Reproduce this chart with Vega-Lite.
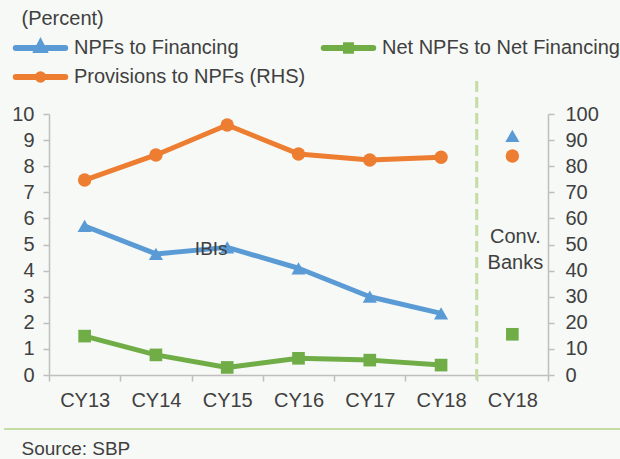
{
  "$schema": "https://vega.github.io/schema/vega-lite/v6.json",
  "width": 499,
  "height": 261,
  "autosize": "none",
  "padding": {"left": 49, "top": 114, "right": 72, "bottom": 84},
  "background": "#f7f9f6",
  "config": {"font": "Liberation Sans", "view": {"stroke": null}},
  "data": {
    "values": [
      {"cat": "CY13", "series": "NPFs to Financing", "side": "L", "grp": "IBIs", "value": 5.71},
      {"cat": "CY14", "series": "NPFs to Financing", "side": "L", "grp": "IBIs", "value": 4.64},
      {"cat": "CY15", "series": "NPFs to Financing", "side": "L", "grp": "IBIs", "value": 4.89},
      {"cat": "CY16", "series": "NPFs to Financing", "side": "L", "grp": "IBIs", "value": 4.09},
      {"cat": "CY17", "series": "NPFs to Financing", "side": "L", "grp": "IBIs", "value": 3.0},
      {"cat": "CY18", "series": "NPFs to Financing", "side": "L", "grp": "IBIs", "value": 2.36},
      {"cat": "CY18 Conv", "series": "NPFs to Financing", "side": "L", "grp": "Conv", "value": 9.16},
      {"cat": "CY13", "series": "Net NPFs to Net Financing", "side": "L", "grp": "IBIs", "value": 1.49},
      {"cat": "CY14", "series": "Net NPFs to Net Financing", "side": "L", "grp": "IBIs", "value": 0.77},
      {"cat": "CY15", "series": "Net NPFs to Net Financing", "side": "L", "grp": "IBIs", "value": 0.29},
      {"cat": "CY16", "series": "Net NPFs to Net Financing", "side": "L", "grp": "IBIs", "value": 0.64},
      {"cat": "CY17", "series": "Net NPFs to Net Financing", "side": "L", "grp": "IBIs", "value": 0.57},
      {"cat": "CY18", "series": "Net NPFs to Net Financing", "side": "L", "grp": "IBIs", "value": 0.38},
      {"cat": "CY18 Conv", "series": "Net NPFs to Net Financing", "side": "L", "grp": "Conv", "value": 1.56},
      {"cat": "CY13", "series": "Provisions to NPFs (RHS)", "side": "R", "grp": "IBIs", "value": 74.7},
      {"cat": "CY14", "series": "Provisions to NPFs (RHS)", "side": "R", "grp": "IBIs", "value": 84.3},
      {"cat": "CY15", "series": "Provisions to NPFs (RHS)", "side": "R", "grp": "IBIs", "value": 95.8},
      {"cat": "CY16", "series": "Provisions to NPFs (RHS)", "side": "R", "grp": "IBIs", "value": 84.7},
      {"cat": "CY17", "series": "Provisions to NPFs (RHS)", "side": "R", "grp": "IBIs", "value": 82.4},
      {"cat": "CY18", "series": "Provisions to NPFs (RHS)", "side": "R", "grp": "IBIs", "value": 83.4},
      {"cat": "CY18 Conv", "series": "Provisions to NPFs (RHS)", "side": "R", "grp": "Conv", "value": 83.9}
    ]
  },
  "encoding": {
    "x": {
      "field": "cat",
      "type": "ordinal",
      "scale": {"type": "band", "paddingInner": 0, "paddingOuter": 0, "domain": ["CY13", "CY14", "CY15", "CY16", "CY17", "CY18", "CY18 Conv"]},
      "axis": {
        "title": "Source: SBP",
        "titleX": -28,
        "titleY": 73,
        "titleAlign": "left",
        "titleBaseline": "middle",
        "titleFontSize": 19,
        "titleFontWeight": "normal",
        "titleColor": "#404040",
        "labelExpr": "datum.value == 'CY18 Conv' ? 'CY18' : datum.value",
        "labelAngle": 0,
        "labelOverlap": false,
        "tickBand": "extent",
        "tickSize": 6,
        "domainColor": "#bfbfbf",
        "tickColor": "#bfbfbf",
        "domainWidth": 1.5,
        "tickWidth": 1.5,
        "labelFontSize": 20,
        "labelColor": "#404040",
        "labelPadding": 9,
        "grid": false
      }
    }
  },
  "layer": [
    {
      "encoding": {
        "y": {
          "field": "value",
          "type": "quantitative",
          "scale": {"domain": [0, 10], "nice": false},
          "axis": {
            "orient": "left",
            "values": [0, 1, 2, 3, 4, 5, 6, 7, 8, 9, 10],
            "labelOverlap": false,
            "title": "(Percent)",
            "titleAngle": 0,
            "titleX": -28,
            "titleY": -96,
            "titleAlign": "left",
            "titleBaseline": "middle",
            "titleFontSize": 20,
            "titleFontWeight": "normal",
            "titleColor": "#404040",
            "grid": false,
            "domainColor": "#bfbfbf",
            "tickColor": "#bfbfbf",
            "domainWidth": 1.5,
            "tickWidth": 1.5,
            "tickSize": 6,
            "labelFontSize": 20,
            "labelColor": "#404040",
            "labelPadding": 9
          }
        }
      },
      "layer": [
        {
          "transform": [{"filter": "datum.side == 'L' && datum.grp == 'IBIs'"}],
          "mark": {"type": "line", "strokeWidth": 5, "strokeCap": "round", "strokeJoin": "round"},
          "encoding": {
            "color": {
              "field": "series",
              "type": "nominal",
              "scale": {
                "domain": ["NPFs to Financing", "Provisions to NPFs (RHS)", "Net NPFs to Net Financing"],
                "range": ["#5b9bd5", "#ed7d31", "#70ad47"]
              },
              "legend": {
                "orient": "none",
                "legendX": -39,
                "legendY": -77,
                "columns": 2,
                "title": null,
                "padding": 0,
                "labelFontSize": 20,
                "labelColor": "#404040",
                "labelLimit": 400,
                "labelOffset": 3,
                "symbolSize": 3025,
                "clipHeight": 22,
                "rowPadding": 7,
                "columnPadding": 12,
                "encode": {
                  "symbols": {
                    "update": {
                      "shape": {"signal": "datum.value === 'NPFs to Financing' ? 'M-0.9,0H0.9M0,-0.16L0.12,0.07L-0.12,0.07Z' : datum.value === 'Net NPFs to Net Financing' ? 'M-0.9,0H0.9M-0.09,-0.1H0.09V0.1H-0.09Z' : 'M-0.9,0H0.9M-0.1,0A0.1,0.1 0 1,0 0.1,0A0.1,0.1 0 1,0 -0.1,0Z'"},
                      "fill": {"signal": "datum.value === 'NPFs to Financing' ? '#5b9bd5' : datum.value === 'Net NPFs to Net Financing' ? '#70ad47' : '#ed7d31'"},
                      "stroke": {"signal": "datum.value === 'NPFs to Financing' ? '#5b9bd5' : datum.value === 'Net NPFs to Net Financing' ? '#70ad47' : '#ed7d31'"},
                      "strokeWidth": {"value": 6},
                      "strokeCap": {"value": "round"},
                      "opacity": {"value": 1}
                    }
                  }
                }
              }
            }
          }
        },
        {
          "transform": [{"filter": "datum.series == 'NPFs to Financing'"}],
          "mark": {"type": "point", "shape": "triangle-up", "filled": true, "size": 200, "color": "#5b9bd5", "opacity": 1}
        },
        {
          "transform": [{"filter": "datum.series == 'Net NPFs to Net Financing'"}],
          "mark": {"type": "point", "shape": "square", "filled": true, "size": 160, "color": "#70ad47", "opacity": 1}
        },
        {
          "data": {"values": [{"cat": "CY18 Conv", "value": -0.19, "value2": 11.3}]},
          "mark": {"type": "rule", "color": "#c5dca3", "strokeWidth": 3, "strokeDash": [11, 5]},
          "encoding": {
            "x": {"field": "cat", "type": "ordinal", "bandPosition": 0},
            "y2": {"field": "value2"}
          }
        },
        {
          "data": {"values": [{"value": -2.07}]},
          "mark": {"type": "rule", "color": "#c5dca3", "strokeWidth": 2},
          "encoding": {
            "x": {"datum": "CY13", "type": "ordinal", "bandPosition": -0.63},
            "x2": {"datum": "CY18 Conv", "bandPosition": 2.01}
          }
        },
        {
          "data": {"values": [{"cat": "CY15", "value": 4.83, "label": "IBIs"}]},
          "mark": {"type": "text", "fontSize": 19, "color": "#404040", "dx": -16, "baseline": "middle"},
          "encoding": {"text": {"field": "label"}}
        },
        {
          "data": {"values": [{"cat": "CY18 Conv", "value": 5.29, "label": "Conv.\nBanks"}]},
          "mark": {"type": "text", "fontSize": 20, "color": "#404040", "dx": 3, "baseline": "middle", "lineBreak": "\n", "lineHeight": 26},
          "encoding": {"text": {"field": "label"}}
        }
      ]
    },
    {
      "encoding": {
        "y": {
          "field": "value",
          "type": "quantitative",
          "scale": {"domain": [0, 100], "nice": false},
          "axis": {
            "orient": "right",
            "values": [0, 10, 20, 30, 40, 50, 60, 70, 80, 90, 100],
            "labelOverlap": false,
            "title": null,
            "grid": false,
            "domainColor": "#bfbfbf",
            "tickColor": "#bfbfbf",
            "domainWidth": 1.5,
            "tickWidth": 1.5,
            "tickSize": 6,
            "labelFontSize": 20,
            "labelColor": "#404040",
            "labelPadding": 11
          }
        }
      },
      "layer": [
        {
          "transform": [{"filter": "datum.side == 'R' && datum.grp == 'IBIs'"}],
          "mark": {"type": "line", "strokeWidth": 5, "strokeCap": "round", "strokeJoin": "round"},
          "encoding": {"color": {"field": "series", "type": "nominal"}}
        },
        {
          "transform": [{"filter": "datum.series == 'Provisions to NPFs (RHS)'"}],
          "mark": {"type": "point", "shape": "circle", "filled": true, "size": 180, "color": "#ed7d31", "opacity": 1}
        }
      ]
    }
  ],
  "resolve": {"scale": {"y": "independent"}}
}
